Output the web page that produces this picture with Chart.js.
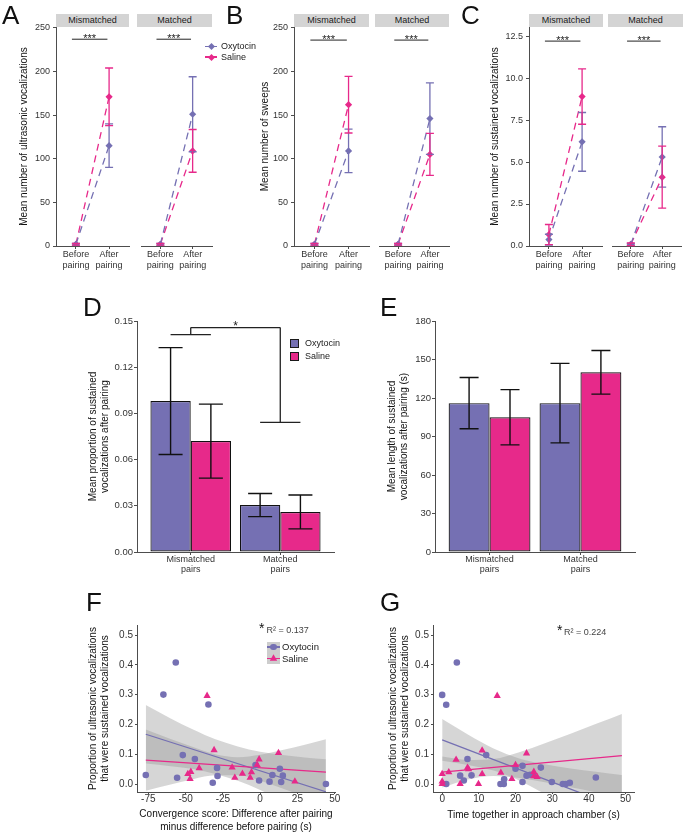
<!DOCTYPE html>
<html>
<head>
<meta charset="utf-8">
<script src="https://cdn.jsdelivr.net/npm/chart.js@4.4.1/dist/chart.umd.min.js"></script>
<style>
  body { margin: 0; background: #fff; }
  #fig { position: relative; width: 685px; height: 834px; overflow: hidden; font-family: 'Liberation Sans', Arial, sans-serif; color: #111; }
  #fig canvas { position: absolute; }
  .panel { position: absolute; font-size: 26px; line-height: 1; }
  .strip { position: absolute; top: 14px; height: 13px; line-height: 13px; background: #d4d4d4; font-size: 9px; text-align: center; color: #1a1a1a; }
  .txt { position: absolute; white-space: nowrap; }
</style>
</head>
<body>
<div id="fig"></div>
<script>
// ---- data ----
const treatments = ['Oxytocin', 'Saline'];
const phases = [['Before', 'pairing'], ['After', 'pairing']];
const pairTypes = [['Mismatched', 'pairs'], ['Matched', 'pairs']];
const facets = ['Mismatched', 'Matched'];

// A: mean number of ultrasonic vocalizations (before, after) and SE
const usvMismatchedOxy = [2, 115], usvMismatchedOxySE = [1, 25];
const usvMismatchedSal = [2, 171], usvMismatchedSalSE = [1, 33];
const usvMatchedOxy = [2, 151], usvMatchedOxySE = [1, 43];
const usvMatchedSal = [2, 109], usvMatchedSalSE = [1, 24.5];
const usvTicks = [0, 50, 100, 150, 200, 250];

// B: mean number of sweeps
const sweepMismatchedOxy = [2, 109], sweepMismatchedOxySE = [1, 25];
const sweepMismatchedSal = [2, 162], sweepMismatchedSalSE = [1, 32.5];
const sweepMatchedOxy = [2, 146], sweepMatchedOxySE = [1, 41];
const sweepMatchedSal = [2, 105], sweepMatchedSalSE = [1, 24];
const sweepTicks = [0, 50, 100, 150, 200, 250];

// C: mean number of sustained vocalizations
const sustMismatchedOxy = [0.38, 6.2], sustMismatchedOxySE = [0.32, 1.75];
const sustMismatchedSal = [0.68, 8.9], sustMismatchedSalSE = [0.6, 1.65];
const sustMatchedOxy = [0.1, 5.3], sustMatchedOxySE = [0.05, 1.8];
const sustMatchedSal = [0.1, 4.1], sustMatchedSalSE = [0.08, 1.85];
const sustTicks = [0, 2.5, 5, 7.5, 10, 12.5];

// D: proportion of sustained vocalizations after pairing (mismatched, matched)
const propOxy = [0.098, 0.0305], propOxySE = [0.0347, 0.0075];
const propSal = [0.072, 0.026], propSalSE = [0.024, 0.011];
const propTicks = [0, 0.03, 0.06, 0.09, 0.12, 0.15];

// E: length of sustained vocalizations after pairing (s)
const lengthOxy = [116, 116], lengthOxySE = [20, 31];
const lengthSal = [105, 140], lengthSalSE = [21.5, 17];
const lengthTicks = [0, 30, 60, 90, 120, 150, 180];

// F: convergence score vs proportion sustained
const fOxyX = [-76.7, -64.9, -56.6, -55.7, -51.9, -43.8, -34.7, -31.8, -28.9, -28.6, -3.1, -0.7, 6.3, 8.2, 13.2, 14.1, 15.2, 44.1];
const fOxyY = [0.030, 0.300, 0.408, 0.021, 0.097, 0.084, 0.267, 0.004, 0.054, 0.027, 0.064, 0.012, 0.008, 0.030, 0.051, 0.007, 0.028, 0.0];
const fSalX = [-35.6, -30.9, -40.9, -48.5, -46.5, -47, -18.8, -17, -11.9, -5.8, -6.7, -2, -0.7, 12.3, 23.3];
const fSalY = [0.296, 0.114, 0.053, 0.034, 0.041, 0.017, 0.056, 0.021, 0.035, 0.040, 0.021, 0.064, 0.083, 0.104, 0.009];
const fFitX = [-76.7, 44.1];
const fOxyFit = [0.167, -0.026];
const fSalFit = [0.080, 0.040];
const fBandX = [-76.7, -60, -45, -30, -15, 0, 15, 30, 44.1];
const fOxyUpper = [0.265, 0.220, 0.183, 0.150, 0.126, 0.108, 0.097, 0.089, 0.083];
const fOxyLower = [0.069, 0.060, 0.050, 0.034, 0.011, -0.020, -0.057, -0.097, -0.136];
const fSalUpper = [0.183, 0.151, 0.124, 0.100, 0.090, 0.098, 0.114, 0.132, 0.150];
const fSalLower = [-0.023, -0.002, 0.016, 0.029, 0.029, 0.011, -0.015, -0.043, -0.070];
const fXTicks = [-75, -50, -25, 0, 25, 50];

// G: time together in approach chamber vs proportion sustained
const gOxyX = [0, 1.1, 4, 1.1, 4.9, 5.9, 6.9, 8, 12, 15.9, 16.8, 16.9, 20, 21.9, 21.9, 23, 24, 24.8, 26.9, 29.9, 32.9, 33.7, 34.8, 41.9];
const gOxyY = [0.299, 0.266, 0.408, 0.0, 0.028, 0.012, 0.084, 0.029, 0.097, 0.0, 0.0, 0.016, 0.051, 0.061, 0.007, 0.028, 0.031, 0.032, 0.055, 0.007, 0.0, 0.0, 0.004, 0.022];
const gSalX = [0, 0, 0, 1.8, 3.8, 4.9, 6.9, 7.2, 9.9, 10.9, 10.9, 15, 16, 19, 20, 23, 25, 25, 25.9];
const gSalY = [0.034, 0.009, 0.0, 0.040, 0.082, 0.0, 0.055, 0.050, 0.0, 0.113, 0.034, 0.296, 0.038, 0.017, 0.064, 0.103, 0.041, 0.026, 0.024];
const gFitX = [0, 49];
const gOxyFit = [0.148, -0.083];
const gSalFit = [0.040, 0.095];
const gBandX = [0, 7, 14, 21, 28, 35, 42, 49];
const gOxyUpper = [0.218, 0.166, 0.119, 0.086, 0.066, 0.052, 0.041, 0.030];
const gOxyLower = [0.078, 0.064, 0.045, 0.012, -0.034, -0.086, -0.141, -0.196];
const gSalUpper = [0.092, 0.081, 0.084, 0.107, 0.137, 0.169, 0.202, 0.235];
const gSalLower = [-0.012, 0.015, 0.027, 0.020, 0.006, -0.011, -0.028, -0.045];
const gXTicks = [0, 10, 20, 30, 40, 50];
const propYTicks = [0, 0.1, 0.2, 0.3, 0.4, 0.5];

// ---- styling ----
const PURPLE = '#7570b3', PINK = '#e7298a', BAND = 'rgba(153,153,153,0.4)';
const AXIS = '#4d4d4d', TICK = '#333333', TITLE = '#111111';
Chart.defaults.font.family = "'Liberation Sans', Arial, sans-serif";
Chart.defaults.color = TICK;

const fig = document.getElementById('fig');

function addCanvas(p) {
  const c = document.createElement('canvas');
  c.width = p.cr - p.cl; c.height = p.cb - p.ct;
  c.style.left = p.cl + 'px'; c.style.top = p.ct + 'px';
  c.style.width = c.width + 'px'; c.style.height = c.height + 'px';
  fig.appendChild(c);
  return c;
}
function addBox(css, text, cls) {
  const d = document.createElement('div');
  if (cls) d.className = cls;
  d.style.cssText += 'position:absolute;' + css;
  if (text) d.textContent = text;
  fig.appendChild(d);
  return d;
}
// canvas box + plot box
function place(cl, ct, cr, cb, pl, pt, pr, pb) { return { cl, ct, cr, cb, pl, pt, pr, pb }; }

// error bars drawn from each dataset's err array through the y scale
const errorBars = {
  id: 'errorBars',
  afterDatasetsDraw(chart) {
    const ctx = chart.ctx, ys = chart.scales.y;
    chart.data.datasets.forEach((ds, di) => {
      if (!ds.err) return;
      const meta = chart.getDatasetMeta(di);
      ctx.save();
      ctx.strokeStyle = ds.errColor;
      ctx.lineWidth = ds.errWidth;
      meta.data.forEach((el, i) => {
        const v = ds.data[i].y;
        const top = ys.getPixelForValue(v + ds.err[i]);
        const bot = ys.getPixelForValue(v - ds.err[i]);
        const h = ds.capWidth / 2;
        ctx.beginPath();
        ctx.moveTo(el.x, top); ctx.lineTo(el.x, bot);
        ctx.moveTo(el.x - h, top); ctx.lineTo(el.x + h, top);
        ctx.moveTo(el.x - h, bot); ctx.lineTo(el.x + h, bot);
        ctx.stroke();
      });
      ctx.restore();
    });
  }
};

// significance lines and stars, in data units
function annotate(cfg) {
  return {
    id: 'annot',
    afterDraw(chart) {
      if (!cfg) return;
      const ctx = chart.ctx, xs = chart.scales.x, ys = chart.scales.y;
      ctx.save();
      ctx.strokeStyle = '#222';
      ctx.lineWidth = cfg.width || 1;
      cfg.lines.forEach(s => {
        ctx.beginPath();
        ctx.moveTo(xs.getPixelForValue(s[0]), ys.getPixelForValue(s[1]));
        ctx.lineTo(xs.getPixelForValue(s[2]), ys.getPixelForValue(s[3]));
        ctx.stroke();
      });
      ctx.fillStyle = '#222';
      ctx.font = cfg.font;
      ctx.textAlign = 'center';
      ctx.textBaseline = 'alphabetic';
      ctx.fillText(cfg.text, xs.getPixelForValue(cfg.tx), ys.getPixelForValue(cfg.ty) + cfg.dy);
      ctx.restore();
    }
  };
}

function axisParts(tl) {
  return {
    grid: { display: true, drawOnChartArea: false, drawTicks: true, tickLength: tl, color: AXIS, offset: false },
    border: { display: true, color: AXIS, width: 1 }
  };
}
function xScale(min, max, ticks, label, pos, o) {
  return Object.assign({
    type: 'linear', min, max, offset: false,
    afterBuildTicks: s => { s.ticks = ticks.map(v => ({ value: v })); },
    afterFit: s => { s.height = pos.cb - pos.pb; },
    ticks: { callback: label, autoSkip: false, maxRotation: 0, padding: o.pad, color: TICK,
             font: { size: o.size, lineHeight: o.lh } },
    title: o.title ? { display: true, text: o.title, color: TITLE, padding: { top: 0, bottom: o.titlePad || 0 },
                       font: { size: 10, lineHeight: 1.3 } } : { display: false }
  }, axisParts(o.tl));
}
function yScale(min, max, ticks, label, pos, o) {
  return Object.assign({
    type: 'linear', min, max, display: o.show !== false,
    afterBuildTicks: s => { s.ticks = ticks.map(v => ({ value: v })); },
    afterFit: s => { s.width = pos.pl - pos.cl; },
    ticks: { callback: label, padding: o.pad, color: TICK, font: { size: o.size } },
    title: { display: !!o.title, text: o.title || '', color: TITLE, padding: 0, font: { size: 10, lineHeight: 1.2 } }
  }, axisParts(o.tl));
}
function baseOptions(pos, scales) {
  return {
    responsive: false, animation: false, events: [], devicePixelRatio: 1,
    layout: { padding: { left: 0, top: pos.pt - pos.ct, right: pos.cr - pos.pr, bottom: 0 } },
    plugins: { legend: { display: false }, tooltip: { enabled: false } },
    scales
  };
}

// ---- A, B, C: faceted before/after line plots ----
function facetSeries(oxy, oxySE, sal, salSE) {
  return [
    { label: treatments[0], values: oxy, se: oxySE, color: PURPLE },
    { label: treatments[1], values: sal, se: salSE, color: PINK }
  ];
}
function lineFacet(pos, series, yTicks, yMax, dec, yTitle, showY, sig) {
  new Chart(addCanvas(pos), {
    type: 'line',
    data: {
      datasets: series.map(s => ({
        label: s.label,
        data: s.values.map((v, i) => ({ x: i + 1, y: v })),
        err: s.se, errColor: s.color, errWidth: 1.3, capWidth: 8,
        borderColor: s.color, backgroundColor: s.color,
        borderWidth: 1.3, borderDash: [7, 5], fill: false,
        pointStyle: 'rectRot', pointRadius: 3.6, pointBorderWidth: 0
      }))
    },
    options: baseOptions(pos, {
      x: xScale(0.4, 2.6, [1, 2], v => phases[v - 1], pos, { size: 9, lh: 1.22, pad: 0, tl: 3 }),
      y: yScale(0, yMax, yTicks, v => v.toFixed(dec), pos, { size: 9, pad: 3, tl: 3, title: yTitle, show: showY })
    }),
    plugins: [errorBars, annotate(sig)]
  });
}
function stars(y) {
  return { lines: [[0.88, y, 1.95, y]], text: '***', tx: 1.415, ty: y, dy: 3, font: "11px 'Liberation Sans', Arial" };
}
function facetStrips(l1, r1, l2, r2) {
  addBox(`left:${l1}px;width:${r1 - l1}px;`, facets[0], 'strip');
  addBox(`left:${l2}px;width:${r2 - l2}px;`, facets[1], 'strip');
}

facetStrips(56, 129, 137, 212);
lineFacet(place(18, 12, 133, 272, 56, 27, 129, 246), facetSeries(usvMismatchedOxy, usvMismatchedOxySE, usvMismatchedSal, usvMismatchedSalSE),
  usvTicks, 251, 0, 'Mean number of ultrasonic vocalizations', true, stars(237));
lineFacet(place(137, 12, 216, 272, 137, 27, 212, 246), facetSeries(usvMatchedOxy, usvMatchedOxySE, usvMatchedSal, usvMatchedSalSE),
  usvTicks, 251, 0, '', false, stars(237));

facetStrips(294, 369, 375, 449);
lineFacet(place(259, 12, 373, 272, 294, 27, 369, 246), facetSeries(sweepMismatchedOxy, sweepMismatchedOxySE, sweepMismatchedSal, sweepMismatchedSalSE),
  sweepTicks, 251, 0, 'Mean number of sweeps', true, stars(236));
lineFacet(place(375, 12, 453, 272, 375, 27, 449, 246), facetSeries(sweepMatchedOxy, sweepMatchedOxySE, sweepMatchedSal, sweepMatchedSalSE),
  sweepTicks, 251, 0, '', false, stars(236));

facetStrips(529, 603, 608, 683);
lineFacet(place(489, 12, 606, 272, 529, 27, 603, 246), facetSeries(sustMismatchedOxy, sustMismatchedOxySE, sustMismatchedSal, sustMismatchedSalSE),
  sustTicks, 13.04, 1, 'Mean number of sustained vocalizations', true, stars(12.2));
lineFacet(place(608, 12, 685, 272, 608, 27, 683, 246), facetSeries(sustMatchedOxy, sustMatchedOxySE, sustMatchedSal, sustMatchedSalSE),
  sustTicks, 13.04, 1, '', false, stars(12.2));

// legend for A-C
[[treatments[0], PURPLE, 46.5], [treatments[1], PINK, 57]].forEach(([name, col, y]) => {
  addBox(`left:205px;top:${y - 0.6}px;width:12px;height:1.3px;background:${col};`);
  addBox(`left:208.5px;top:${y - 2.5}px;width:5px;height:5px;background:${col};transform:rotate(45deg);`);
  addBox(`left:221px;top:${y - 5.5}px;font-size:9px;line-height:11px;color:#222;`, name, 'txt');
});

// ---- D, E: bar charts ----
function barPanel(pos, oxy, oxySE, sal, salSE, yTicks, yMax, dec, yTitle, capW, sig) {
  const mk = (label, vals, se, color) => ({
    label, data: vals.map((v, i) => ({ x: i + 1, y: v })),
    err: se, errColor: '#111', errWidth: 1.4, capWidth: capW,
    backgroundColor: color, borderColor: '#111', borderWidth: 1.2, borderSkipped: false,
    categoryPercentage: 0.9, barPercentage: 1
  });
  new Chart(addCanvas(pos), {
    type: 'bar',
    data: { datasets: [mk(treatments[0], oxy, oxySE, PURPLE), mk(treatments[1], sal, salSE, PINK)] },
    options: baseOptions(pos, {
      x: xScale(0.4, 2.6, [1, 2], v => pairTypes[v - 1], pos, { size: 9, lh: 1.11, pad: 0, tl: 3 }),
      y: yScale(0, yMax, yTicks, v => v.toFixed(dec), pos, { size: 9.5, pad: 1, tl: 3, title: yTitle })
    }),
    plugins: [errorBars, annotate(sig)]
  });
}
barPanel(place(87, 305, 345, 580, 137, 321, 334, 552), propOxy, propOxySE, propSal, propSalSE, propTicks, 0.15, 2,
  ['Mean proportion of sustained', 'vocalizations after pairing'], 24,
  { lines: [[0.775, 0.1412, 1.225, 0.1412], [1.0, 0.1412, 1.0, 0.1457], [1.0, 0.1457, 2.0, 0.1457],
            [2.0, 0.1457, 2.0, 0.0842], [1.775, 0.0842, 2.225, 0.0842]],
    width: 1.3, text: '*', tx: 1.5, ty: 0.1457, dy: 2, font: "12px 'Liberation Sans', Arial" });
barPanel(place(386, 305, 645, 580, 435, 321, 635, 552), lengthOxy, lengthOxySE, lengthSal, lengthSalSE, lengthTicks, 180, 0,
  ['Mean length of sustained', 'vocalizations after pairing (s)'], 19, null);

// legend for D
[[treatments[0], PURPLE, 339], [treatments[1], PINK, 352]].forEach(([name, col, y]) => {
  addBox(`left:290px;top:${y}px;width:9px;height:9px;box-sizing:border-box;border:1px solid #1a1a1a;background:${col};`);
  addBox(`left:305px;top:${y - 1}px;font-size:9px;line-height:11px;color:#222;`, name, 'txt');
});

// ---- F, G: scatter with fits ----
function scatterPanel(pos, d) {
  const xy = (xs, ys) => xs.map((x, i) => ({ x, y: ys[i] }));
  const band = (ys, fill) => ({ data: xy(d.bandX, ys), showLine: true, pointRadius: 0, borderWidth: 1,
    borderColor: 'rgba(0,0,0,0)', backgroundColor: BAND, fill, cubicInterpolationMode: 'monotone', order: 3 });
  new Chart(addCanvas(pos), {
    type: 'scatter',
    data: {
      datasets: [
        { label: treatments[1], data: xy(d.salX, d.salY), pointStyle: 'triangle', pointRadius: 4.2, pointBorderWidth: 0, backgroundColor: PINK, order: 0 },
        { label: treatments[0], data: xy(d.oxyX, d.oxyY), pointStyle: 'circle', pointRadius: 3.3, pointBorderWidth: 0, backgroundColor: PURPLE, order: 0 },
        { data: xy(d.fitX, d.salFit), showLine: true, pointRadius: 0, borderColor: PINK, borderWidth: 1.3, order: 1 },
        { data: xy(d.fitX, d.oxyFit), showLine: true, pointRadius: 0, borderColor: PURPLE, borderWidth: 1.3, order: 1 },
        band(d.oxyUpper, '+1'), band(d.oxyLower, false),
        band(d.salUpper, '+1'), band(d.salLower, false)
      ]
    },
    options: baseOptions(pos, {
      x: xScale(d.xMin, d.xMax, d.xTicks, v => String(v), pos, { size: 10, lh: 1, pad: 0, tl: 2, title: d.xTitle, titlePad: d.titlePad }),
      y: yScale(-0.0268, 0.5336, propYTicks, v => v.toFixed(1), pos, { size: 10, pad: 2, tl: 2,
        title: ['Proportion of ultrasonic vocalizations', 'that were sustained vocalizations'] })
    })
  });
}
scatterPanel(place(87, 612, 350, 834, 137, 625, 335, 792), {
  oxyX: fOxyX, oxyY: fOxyY, salX: fSalX, salY: fSalY, fitX: fFitX, oxyFit: fOxyFit, salFit: fSalFit,
  bandX: fBandX, oxyUpper: fOxyUpper, oxyLower: fOxyLower, salUpper: fSalUpper, salLower: fSalLower,
  xMin: -82.6, xMax: 50.2, xTicks: fXTicks, titlePad: 0,
  xTitle: ['Convergence score: Difference after pairing', 'minus difference before pairing (s)']
});
scatterPanel(place(387, 612, 650, 834, 433, 625, 634, 792), {
  oxyX: gOxyX, oxyY: gOxyY, salX: gSalX, salY: gSalY, fitX: gFitX, oxyFit: gOxyFit, salFit: gSalFit,
  bandX: gBandX, oxyUpper: gOxyUpper, oxyLower: gOxyLower, salUpper: gSalUpper, salLower: gSalLower,
  xMin: -2.5, xMax: 52.3, xTicks: gXTicks, titlePad: 12.5,
  xTitle: 'Time together in approach chamber (s)'
});

// legend for F
addBox('left:267px;top:641.5px;width:13px;height:22.5px;background:#cdcdcd;');
addBox(`left:267px;top:646.4px;width:13px;height:1.2px;background:${PURPLE};`);
addBox(`left:270.3px;top:643.7px;width:6.6px;height:6.6px;border-radius:50%;background:${PURPLE};`);
addBox(`left:267px;top:657.7px;width:13px;height:1.2px;background:${PINK};`);
addBox(`left:269.8px;top:654.3px;width:7.4px;height:6.4px;background:${PINK};clip-path:polygon(50% 0,100% 100%,0 100%);`);
addBox('left:282px;top:641px;font-size:9.5px;line-height:12px;color:#222;', treatments[0], 'txt');
addBox('left:282px;top:652.5px;font-size:9.5px;line-height:12px;color:#222;', treatments[1], 'txt');

// fit annotations
addBox('left:259px;top:620.5px;font-size:14px;line-height:14px;color:#111;', '*', 'txt');
addBox('left:266.5px;top:624.5px;font-size:9px;line-height:11px;color:#444;', 'R² = 0.137', 'txt');
addBox('left:557px;top:622.5px;font-size:14px;line-height:14px;color:#111;', '*', 'txt');
addBox('left:564px;top:626.5px;font-size:9px;line-height:11px;color:#444;', 'R² = 0.224', 'txt');

// panel letters
[['A', 2, 1.6], ['B', 226, 1.6], ['C', 461, 1.6], ['D', 83, 293.6], ['E', 380, 293.6], ['F', 86, 588.6], ['G', 380, 588.6]]
  .forEach(([t, l, tp]) => addBox(`left:${l}px;top:${tp}px;`, t, 'panel'));
</script>
</body>
</html>
